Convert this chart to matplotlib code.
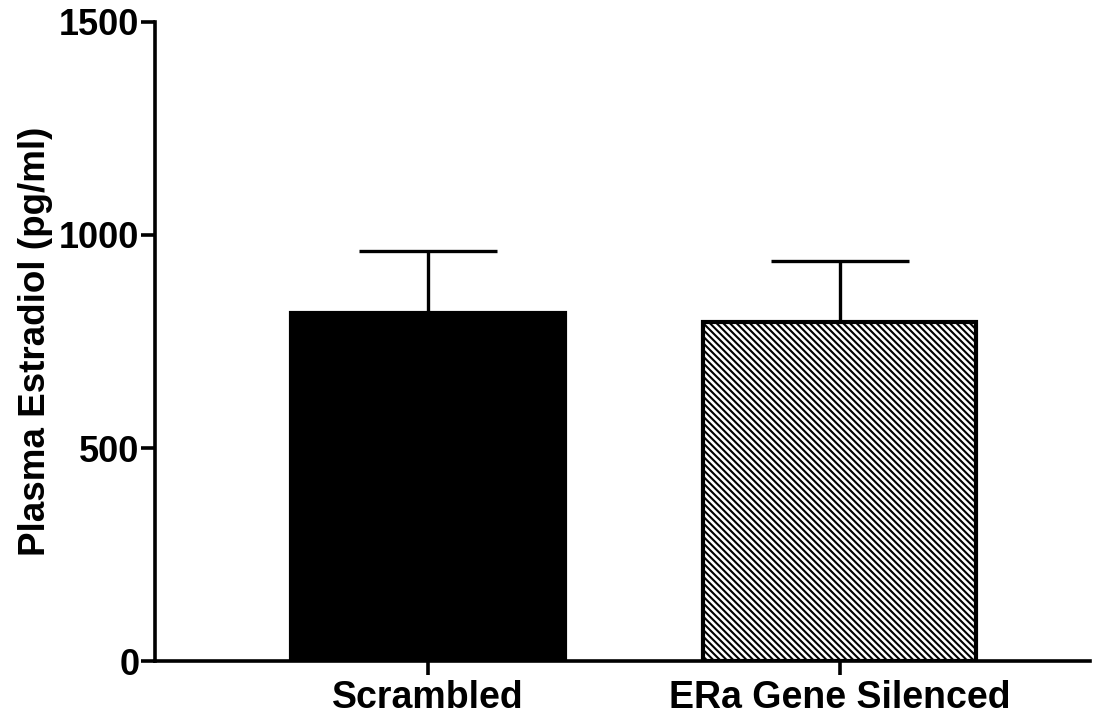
import numpy as np
import matplotlib
matplotlib.use("Agg")
import matplotlib.pyplot as plt

groups = ["Scrambled", "ERa Gene Silenced"]
means = [816, 795]
sems = [147, 143]
yticks = [0, 500, 1000, 1500]

plt.rcParams['font.family'] = ['Liberation Sans', 'DejaVu Sans']
plt.rcParams['font.weight'] = 'bold'
plt.rcParams['hatch.linewidth'] = 1.5

fig = plt.figure(figsize=(11.05, 7.21), dpi=100)
ax = fig.add_axes([0.140, 0.0832, 0.846, 0.8863])

x = np.arange(len(groups))
# upper-only SEM bars, drawn under the bars so the lower cap stays hidden
ax.errorbar(x, means, yerr=[np.zeros(len(sems)), sems], fmt='none',
            ecolor='black', elinewidth=2.4, capsize=50, capthick=2.4, zorder=1)
bars = ax.bar(x, means, width=0.665, color=['black', 'white'],
              edgecolor='black', linewidth=3, zorder=2)
bars[1].set_hatch('\\' * 5)

ax.set_xlim(-0.663, 1.607)
ax.set_ylim(0, 1500)
ax.set_yticks(yticks)
ax.set_xticks(x)
ax.set_xticklabels(groups)

for side in ['top', 'right']:
    ax.spines[side].set_visible(False)
for side in ['left', 'bottom']:
    ax.spines[side].set_linewidth(2.6)

ax.tick_params(axis='y', length=10, width=2.6, labelsize=26, pad=1)
ax.tick_params(axis='x', length=10, width=2.6, labelsize=27, pad=4)
for lbl in ax.get_xticklabels() + ax.get_yticklabels():
    lbl.set_fontweight('bold')

ax.set_ylabel("Plasma Estradiol (pg/ml)", fontsize=26.5, fontweight='bold', labelpad=4)

fig.savefig("out.png", dpi=100)
